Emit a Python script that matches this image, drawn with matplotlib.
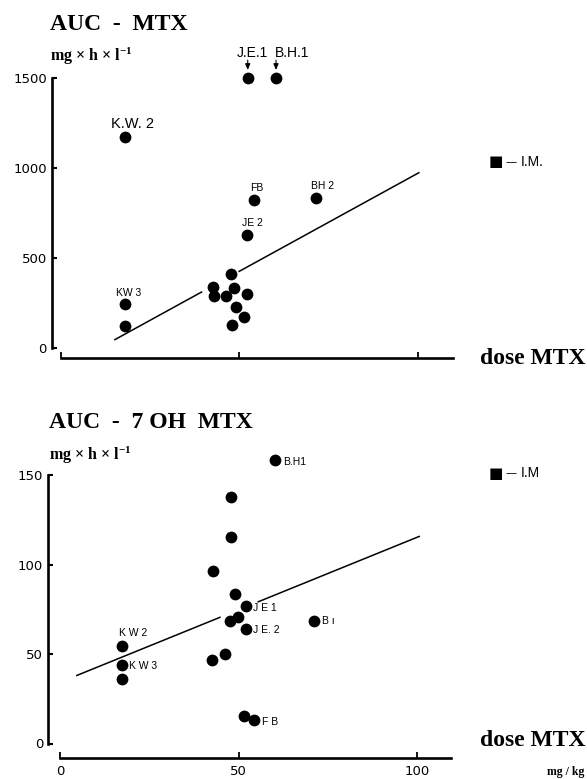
import numpy as np
import matplotlib
matplotlib.use("Agg")
import matplotlib.pyplot as plt
from matplotlib import font_manager

# --- data -----------------------------------------------------------------
# upper panel : AUC of MTX (mg x h x l-1) vs dose MTX (mg/kg)
dose_mtx = [52.3, 60.2, 18.0, 54.1, 71.4, 52.1, 18.0, 18.0,
            47.6, 42.7, 42.9, 46.2, 48.6, 52.0, 49.0, 51.3, 47.9]
auc_mtx = [1500, 1500, 1171, 822, 832, 627, 243, 120,
           408, 339, 289, 286, 334, 299, 224, 170, 126]
names_mtx = ["J.E.1", "B.H.1", "K.W. 2", "FB", "BH 2", "JE 2", "KW 3"]
fit_mtx = (-122.0, 10.95)                  # intercept, slope
fit_mtx_x = [(15.2, 39.4), (49.9, 100.1)]  # drawn pieces of the line

# lower panel : AUC of 7-OH MTX
dose_7oh = [60.3, 47.8, 47.9, 42.9, 49.1, 52.0, 49.8, 47.6, 52.2,
            71.2, 17.5, 46.1, 42.7, 17.5, 17.5, 51.6, 54.4]
auc_7oh = [158.2, 137.7, 115.3, 96.1, 83.4, 76.7, 70.9, 68.7, 63.9,
           68.7, 54.7, 50.1, 46.7, 43.9, 36.1, 15.6, 13.1]
names_7oh = {0: "B.H1", 5: "J E 1", 8: "J E. 2", 9: "B ı",
             10: "K W 2", 13: "K W 3", 16: "F B"}
fit_7oh = (34.2, 0.81)
fit_7oh_x = [(4.7, 44.8), (55.5, 100.6)]

# ---------------------------------------------------------------------------
avail = {f.name for f in font_manager.fontManager.ttflist}
narrow = "Liberation Sans Narrow" if "Liberation Sans Narrow" in avail else "Liberation Sans"
serif = ["Liberation Serif", "DejaVu Serif"]
plt.rcParams["mathtext.fontset"] = "custom"
plt.rcParams["mathtext.rm"] = "Liberation Serif:bold"
plt.rcParams["mathtext.default"] = "rm"

W, H = 587, 779
fig = plt.figure(figsize=(W / 100, H / 100), dpi=100)


def px(x, y):
    return x / W, 1 - y / H


def setup(ax, ymax, yticks, left_off, bot_off, xlabels):
    ax.set_xlim(0, 109.5)
    ax.set_ylim(0, ymax)
    for s in ("top", "right"):
        ax.spines[s].set_visible(False)
    ax.spines["left"].set_position(("outward", left_off))
    ax.spines["bottom"].set_position(("outward", bot_off))
    ax.spines["left"].set_linewidth(1.9)
    ax.spines["bottom"].set_linewidth(1.9)
    ax.set_yticks(yticks)
    ax.set_xticks([0, 50, 100])
    ax.tick_params(axis="y", direction="in", length=3.5, width=1.5, pad=3.5,
                   labelsize=9.5)
    ax.tick_params(axis="x", direction="in", length=4.5, width=1.3, pad=5,
                   labelsize=9.5, labelbottom=xlabels)
    ax.patch.set_visible(False)


# upper axes
ax1 = fig.add_axes([60.5 / W, 1 - 347.6 / H, 392 / W, 269.3 / H])
setup(ax1, 1500, [0, 500, 1000, 1500], 6.3, 7.7, False)
ax1.scatter(dose_mtx, auc_mtx, s=72, color="black", zorder=3, clip_on=False,
            linewidths=0)
a, b = fit_mtx
for x0, x1 in fit_mtx_x:
    xs = np.array([x0, x1])
    ax1.plot(xs, a + b * xs, color="black", lw=1.1)

offs_mtx = [(5, 25), (16.5, 25), (7.7, 13.3), (2.7, 12.3), (6.5, 12.3),
            (5.5, 11.7), (4, 10.7)]
sizes_mtx = [10, 10, 10.5, 7.5, 7.5, 7.5, 7.5]
for i, name in enumerate(names_mtx):
    dx, dy = offs_mtx[i]
    ax1.annotate(name, (dose_mtx[i], auc_mtx[i]), xytext=(dx * 0.72, dy * 0.72),
                 textcoords="offset points", ha="center", va="center",
                 fontsize=sizes_mtx[i], family=narrow, annotation_clip=False)
# little arrows onto the two clipped points
for i in (0, 1):
    ax1.annotate("", xy=(dose_mtx[i], auc_mtx[i]), xytext=(0, 13),
                 textcoords="offset points", annotation_clip=False,
                 arrowprops=dict(arrowstyle="-|>,head_length=0.35,head_width=0.15",
                                 color="black", lw=0.8, shrinkA=0, shrinkB=6))

# lower axes
ax2 = fig.add_axes([60 / W, 1 - 743.5 / H, 391 / W, 268.5 / H])
setup(ax2, 150, [0, 50, 100, 150], 8.6, 10.7, True)
ax2.scatter(dose_7oh, auc_7oh, s=72, color="black", zorder=3, clip_on=False,
            linewidths=0)
a, b = fit_7oh
for x0, x1 in fit_7oh_x:
    xs = np.array([x0, x1])
    ax2.plot(xs, a + b * xs, color="black", lw=1.1)

offs_7oh = {0: (7.7, -1.6), 5: (7.3, -1.4), 8: (7, -0.7), 9: (7.5, 0),
            10: (10.4, 12.4), 13: (6.7, -1), 16: (7.5, -1.7)}
for i, name in names_7oh.items():
    dx, dy = offs_7oh[i]
    ax2.annotate(name, (dose_7oh[i], auc_7oh[i]), xytext=(dx * 0.72, dy * 0.72),
                 textcoords="offset points", ha="center" if i == 10 else "left",
                 va="center", fontsize=7.5, family=narrow, annotation_clip=False)

# titles and unit labels
units = r"mg $\times$ h $\times$ l$^{-1}$"
fig.text(*px(50, 24), "AUC  -  MTX", family=serif, weight="bold", fontsize=17,
         va="center", ha="left")
fig.text(*px(50, 56), units, family=serif, weight="bold", fontsize=11.5,
         va="center", ha="left")
fig.text(*px(49, 423), "AUC  -  7 OH  MTX", family=serif, weight="bold",
         fontsize=17, va="center", ha="left")
fig.text(*px(49, 455), units, family=serif, weight="bold", fontsize=11.5,
         va="center", ha="left")

fig.text(*px(586, 359), "dose MTX", family=serif, weight="bold", fontsize=17,
         va="center", ha="right")
fig.text(*px(586, 741), "dose MTX", family=serif, weight="bold", fontsize=17,
         va="center", ha="right")
fig.text(*px(584, 772), "mg / kg", family=serif, weight="bold", fontsize=8.5,
         va="center", ha="right")

# I.M. keys
for y, lab in ((162, "I.M."), (473, "I.M")):
    fig.text(*px(489, y), "■", family="DejaVu Sans", fontsize=11,
             va="center", ha="left")
    fig.text(*px(505, y), "—", family="DejaVu Sans", fontsize=8,
             va="center", ha="left")
    fig.text(*px(521, y), lab, family=narrow, fontsize=10,
             va="center", ha="left")

fig.savefig("out.png", dpi=100)
